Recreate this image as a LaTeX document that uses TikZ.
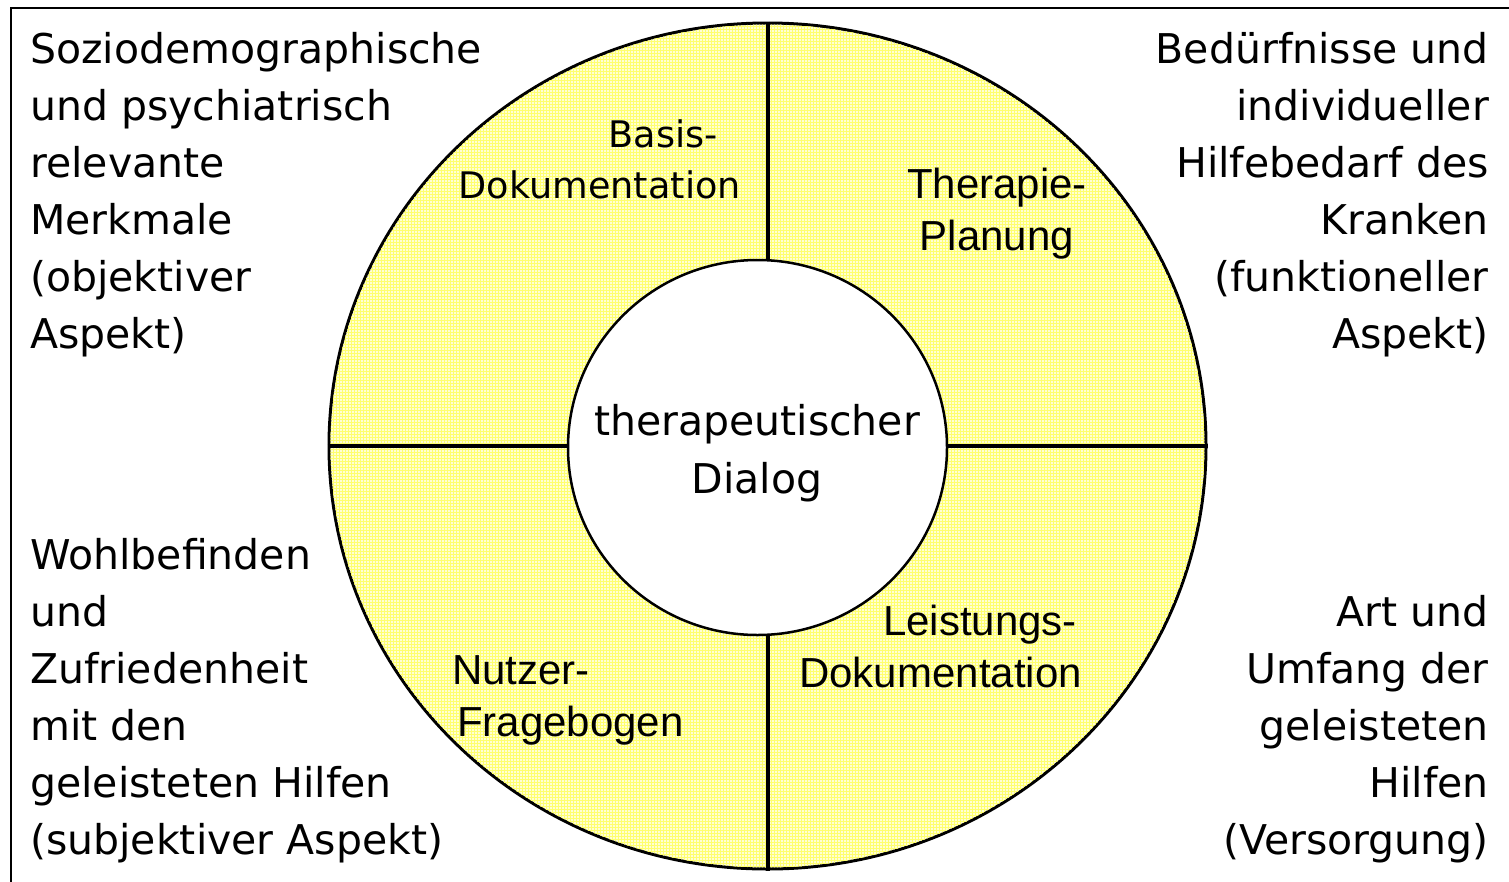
\documentclass[tikz,border=0pt]{standalone}
\usepackage{fontspec}
\setmainfont{DejaVu Sans}
\newfontfamily\tahfont{DejaVu Sans}
\newfontfamily\arifont{Liberation Sans}
\usetikzlibrary{shapes.geometric,patterns}
\definecolor{ringfill}{RGB}{255,255,212}
\definecolor{ringgrid}{RGB}{255,255,110}
\tikzset{
  bigtext/.style={font=\tahfont\fontsize{41}{57}\selectfont, inner sep=0pt},
  midtext/.style={font=\tahfont\fontsize{36.6}{51}\selectfont, inner sep=0pt},
  aritext/.style={font=\arifont\fontsize{42}{52}\selectfont, inner sep=0pt},
  dialtext/.style={font=\tahfont\fontsize{41}{58}\selectfont, inner sep=0pt},
  divider/.style={line width=4pt},
}
\begin{document}
\begin{tikzpicture}[x=1pt,y=-1pt]
\useasboundingbox (0,0) rectangle (1509,881);
\clip (0,0) rectangle (1509,881);
% frame
\draw[line width=2pt] (11,8) rectangle (1530,900);
% outer ring
\node[ellipse, draw, line width=3pt, fill=ringfill, minimum width=877pt, minimum height=846pt, inner sep=0pt] (outer) at (767.5,446) {};
\fill[pattern=grid, pattern color=ringgrid] (767.5,446) ellipse [x radius=437pt, y radius=421.5pt];
\draw[divider] (outer.north) -- (outer.south);
\draw[divider] (outer.west) -- (outer.east);
% inner circle
\node[ellipse, draw, line width=2.5pt, fill=white, minimum width=379pt, minimum height=375pt, inner sep=0pt] (inner) at (757.5,447.5) {};
\node[dialtext, align=center, anchor=base] (dialog) at (757,493) {therapeutischer\\Dialog};
% quadrant labels
\node[midtext, align=right, anchor=base east] (basis) at (741,198) {Basis-\hspace*{23pt}\\Dokumentation};
\node[aritext, align=center, anchor=base] (therapie) at (997,250) {Therapie-\\Planung};
\node[aritext, align=right, anchor=base east] (leistung) at (1082,687) {Leistungs-\hspace*{5pt}\\Dokumentation};
\node[aritext, align=left, anchor=base west] (nutzer) at (452,736) {Nutzer-\\\hspace*{5pt}Fragebogen};
% corner texts
\node[bigtext, align=left, anchor=base west] (tl) at (30,348) {Soziodemographische\\und psychiatrisch\\relevante\\Merkmale\\(objektiver\\Aspekt)};
\node[bigtext, align=right, anchor=base east] (tr) at (1489,348) {Bedürfnisse und\\individueller\\Hilfebedarf des\\Kranken\\(funktioneller\\Aspekt)};
\node[bigtext, align=left, anchor=base west] (bl) at (30,854) {Wohlbefinden\\und\\Zufriedenheit\\mit den\\geleisteten Hilfen\\(subjektiver Aspekt)};
\node[bigtext, align=right, anchor=base east] (br) at (1489,854) {Art und\\Umfang der\\geleisteten\\Hilfen\\(Versorgung)};
\end{tikzpicture}
\end{document}
